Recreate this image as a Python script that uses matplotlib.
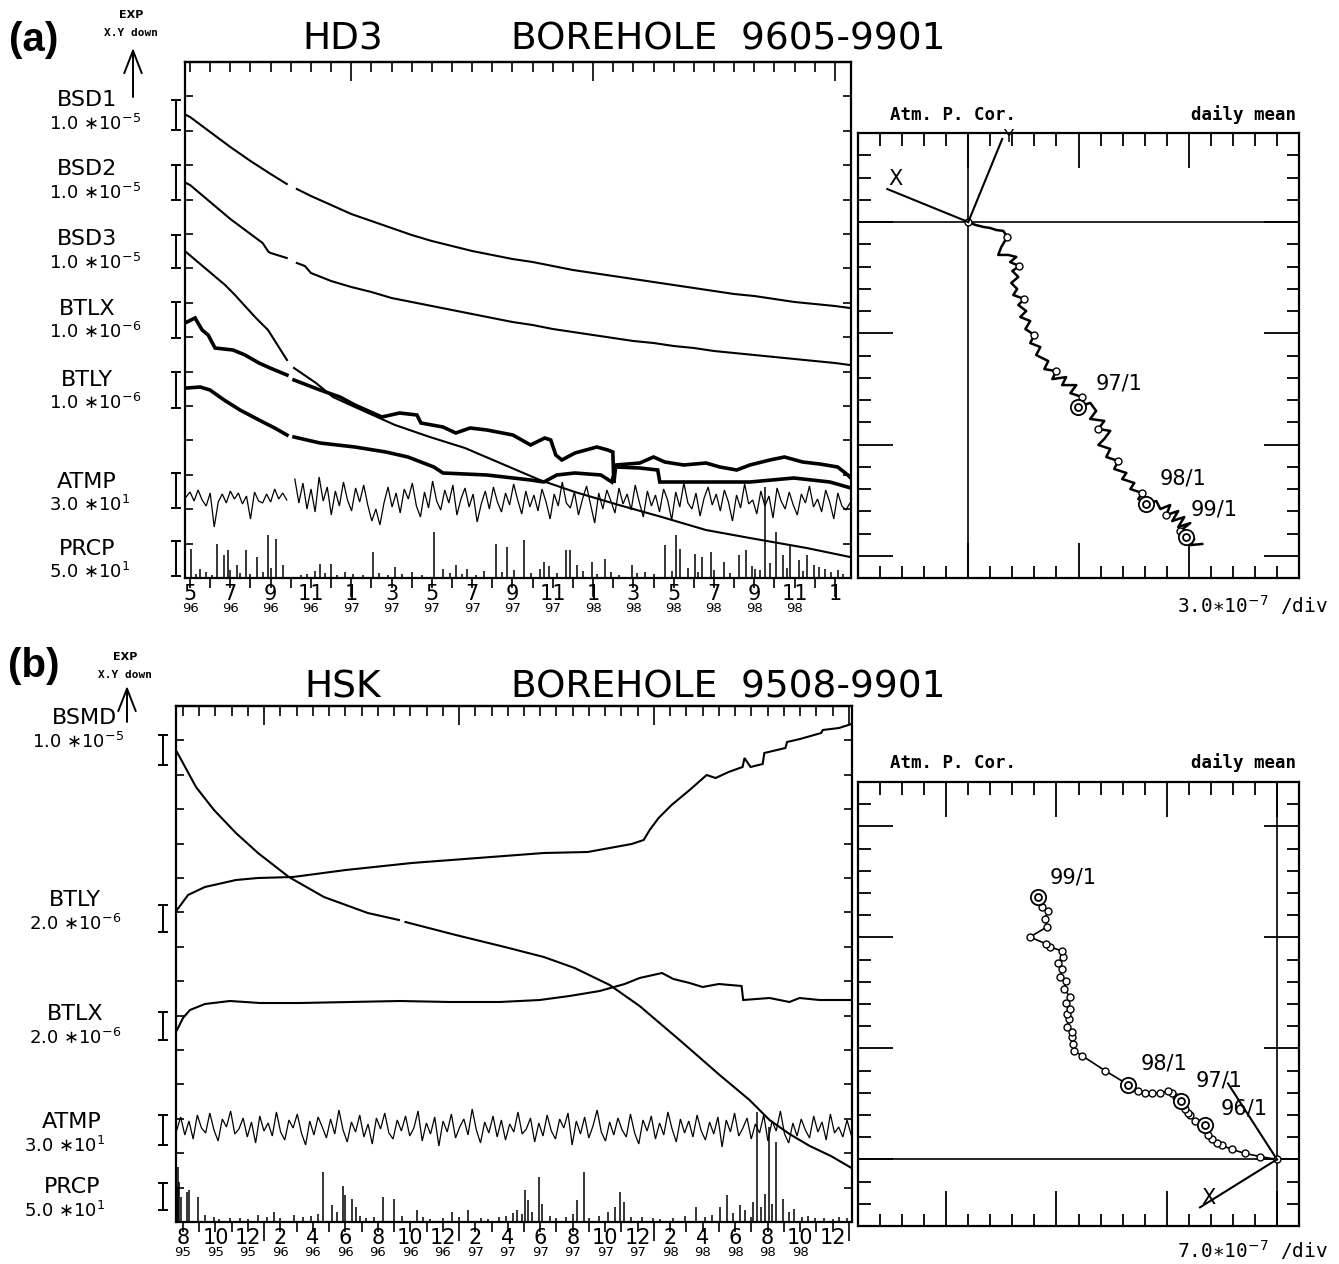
import numpy as np
import matplotlib
matplotlib.use("Agg")
import matplotlib.pyplot as plt
from matplotlib.lines import Line2D
from matplotlib.ticker import MultipleLocator, FixedLocator, NullFormatter

nan = np.nan
W, H = 1339, 1264

# ---------------- panel (a) HD3, time in months from 1996/5 ----------------
# trace values are read downward from the top of the strip ("X.Y down")
bsd1_t = [-0.2, 0, 1, 2, 3, 4, 4.8, 5.0, 5.3, 6, 7, 8, 9, 10, 11, 12, 13, 14, 15, 16, 17,
          18, 19, 20, 21, 22, 23, 24, 25, 26, 27, 28, 29, 30, 31, 32, 32.75]
bsd1_v = [53, 55, 70, 85, 99, 112, 122, nan, 127, 134, 143, 152, 159, 166, 173, 179, 184, 189,
          193, 197, 200, 204, 208, 211, 214, 217, 220, 223, 226, 229, 232, 234, 237, 240, 242,
          244, 246]

bsd2_t = [-0.2, 0, 1, 2, 3, 3.6, 3.9, 4, 4.8, 5.0, 5.3, 5.7, 6, 7, 8, 9, 10, 11, 12, 13, 14,
          15, 16, 17, 18, 19, 20, 21, 22, 23, 24, 25, 26, 27, 28, 29, 30, 31, 32, 32.75]
bsd2_v = [121, 123, 140, 157, 172, 181, 190, 191, 196, nan, 201, 204, 211, 219, 225, 230, 236,
          240, 244, 248, 252, 256, 260, 263, 267, 270, 273, 276, 279, 281, 284, 286, 289, 291,
          293, 295, 297, 299, 301, 303]

bsd3_t = [-0.2, 0.74, 1.74, 2.23, 2.68, 3.27, 3.87, 4.81, 5.0, 5.16, 6.25, 7.09, 8.18, 10.17,
          11.9, 13.64, 15.5, 17.36, 19.1, 21.28, 23.41, 25.6, 27.78, 30.6, 32.75]
bsd3_v = [190, 206, 223, 233, 243, 256, 268, 298, nan, 306, 321, 335, 345, 363, 375, 386, 402,
          418, 430, 443, 455, 468, 476, 486, 495]

btlx_a_t = [-0.15, 0.25, 0.6, 0.9, 1.24, 2.13, 2.73, 3.42, 3.97, 4.81, 5.0, 5.16, 6.45, 7.44,
            8.18, 9.52, 10.4, 11.26, 11.46, 12.55, 13.19, 13.9, 14.73, 16.02, 16.9, 17.6, 17.9,
            18.15, 18.45, 19.1, 20.19, 20.73, 20.98, 21.03, 21.13, 22.32, 23.0, 23.56, 24.5,
            25.6, 26.29, 27.13, 27.78, 28.77, 29.5, 30.4, 31.25, 32.14, 32.64, 32.79]
btlx_a_v = [260, 256, 268, 273, 286, 288, 293, 301, 306, 313, nan, 318, 328, 335, 343, 355, 351,
            353, 361, 365, 371, 366, 368, 373, 383, 376, 378, 393, 398, 391, 385, 388, 390, 421,
            403, 401, 395, 400, 403, 401, 405, 408, 403, 398, 395, 400, 402, 405, 413, 416]

btly_a_t = [-0.15, 0.5, 0.99, 1.69, 2.48, 3.42, 4.2, 4.81, 5.0, 5.16, 6.45, 8.18, 9.72, 10.81,
            12.1, 12.55, 14.73, 16.9, 17.56, 18.2, 19.1, 20.39, 20.93, 21.13, 22.32, 23.21,
            23.31, 25.6, 27.78, 29.96, 31.75, 32.79]
btly_a_v = [326, 325, 328, 338, 348, 358, 366, 373, nan, 375, 381, 385, 390, 395, 405, 411, 413,
            418, 420, 413, 411, 413, 420, 405, 406, 408, 420, 420, 420, 416, 420, 426]

# air temperature, deviations from the strip line (two pieces around the data gap)
atmp_a1 = [0, -5, 4, -7, 3, 9, -4, 30, 5, -3, 6, -6, 2, -4, 7, -1, 22, -5, 4, 6, -3, 5, -8, 2,
           -4, 3]
atmp_a2 = [-18, 6, -14, 12, -8, 15, -20, 4, -10, 18, -6, 9, -15, 3, 14, -9, 5, -12, 8, 24, 12,
           28, 6, -10, 10, -4, 16, -8, 2, -14, 9, 20, -5, 11, -16, 4, 13, -7, 6, -12, 18, 2, -9,
           10, -3, 25, 7, -6, 12, -10, 5, 15, -4, 8, -13, 3, 17, -6, 10, -2, 14, -8, 5, 22, -3,
           9, -15, 6, 11, -5, 18, 2, -11, 8, 26, -4, 12, -7, 4, 16, -9, 7, -3, 13, -12, 5, 20,
           -6, 9, -2, 15, -8, 3, 23, -5, 10, -14, 6, 12, -4, 19, 1, -10, 8, -3, 14, -7, 5, 24,
           -2, 11, -13, 7, 3, 17, -6, 9, -1, 21, -9, 4, 12, -5, 8, 18, -3, 6, -11, 10, 2, 15, -7,
           5, 22, -4, 9, 13, 6]

prcp_a_t = [0.05, 0.5, 1.34, 1.69, 1.88, 2.33, 2.78, 3.32, 3.87, 4.27, 4.61, 6.45, 6.99, 9.08,
            10.17, 12.1, 12.55, 13.19, 13.74, 15.18, 15.72, 16.57, 17.36, 17.56, 18.65, 18.85,
            19.2, 19.94, 20.59, 21.92, 22.57, 23.56, 24.11, 24.31, 25.05, 25.4, 25.84, 26.49,
            27.23, 27.58, 28.03, 28.52, 29.07, 29.42, 29.76, 30.6, 30.95, 31.5, 32.14,
            0.3, 0.8, 1.1, 2.0, 2.5, 3.0, 3.6, 4.0, 5.5, 5.8, 6.2, 6.7, 7.3, 7.7, 8.1, 8.6, 9.4,
            9.8, 10.5, 11.0, 11.5, 12.9, 13.5, 14.2, 14.6, 15.5, 16.1, 16.9, 17.8, 18.2, 19.5,
            20.2, 20.9, 21.3, 22.2, 23.0, 23.9, 24.7, 25.2, 26.0, 26.8, 27.9, 28.3, 28.8, 29.6,
            30.2, 30.4, 31.2, 31.8, 32.4]
prcp_a_h = [29, 9, 34, 23, 28, 13, 28, 21, 43, 39, 13, 14, 14, 26, 11, 46, 9, 13, 9, 34, 31, 38,
            9, 16, 28, 28, 13, 16, 19, 13, 6, 33, 43, 29, 24, 21, 26, 16, 23, 28, 9, 91, 46, 23,
            33, 23, 13, 9, 8,
            4, 6, 3, 8, 5, 4, 6, 10, 3, 4, 7, 5, 3, 6, 4, 3, 5, 3, 4, 6, 3, 5, 4, 3, 7, 6, 8, 5,
            12, 5, 7, 4, 6, 3, 5, 4, 7, 10, 6, 8, 5, 12, 8, 15, 10, 18, 7, 11, 6, 4]

# hodograph (a), divisions of 3.0e-7
hx_a = [0, 0.32, 0.68, 1.0, 1.27, 1.59, 1.77, 1.5, 1.36, 1.81, 2.18, 1.9, 2.31, 2.0, 2.27, 1.95,
        2.22, 2.04, 2.54, 2.27, 2.63, 2.36, 2.81, 2.59, 3.0, 2.81, 3.27, 3.08, 3.63, 3.45, 3.99,
        3.81, 4.44, 4.26, 4.9, 4.63, 5.17, 4.99, 5.53, 5.8, 5.53, 6.17, 5.9, 6.44, 6.17, 5.9,
        6.44, 6.26, 6.8, 6.62, 7.17, 6.98, 7.53, 7.35, 7.89, 7.71, 8.07, 8.53, 8.71, 9.16, 8.98,
        9.52, 9.25, 9.8, 9.52, 10.07, 9.61, 9.89, 10.25, 10.07, 10.61]
hy_a = [0, -0.13, -0.22, -0.27, -0.36, -0.40, -0.67, -1.12, -1.48, -1.48, -1.57, -1.8, -1.98,
        -2.2, -2.47, -2.74, -3.01, -3.28, -3.46, -3.73, -4.0, -4.27, -4.45, -4.81, -5.08, -5.44,
        -5.62, -5.98, -6.25, -6.61, -6.70, -7.06, -6.97, -7.33, -7.33, -7.69, -7.87, -8.31,
        -8.13, -8.49, -8.85, -8.94, -9.3, -9.39, -9.75, -10.02, -10.2, -10.56, -10.74, -11.1,
        -11.28, -11.55, -11.73, -12.0, -12.18, -12.45, -12.67, -12.54, -12.9, -12.72, -13.17,
        -12.99, -13.44, -13.26, -13.71, -13.53, -13.89, -14.16, -14.25, -14.52, -14.47]
yr_a_x = [4.99, 8.07, 9.89]
yr_a_y = [-8.31, -12.67, -14.16]
yr_a_lab = ["97/1", "98/1", "99/1"]
yr_a_lx = [5.76, 8.66, 10.07]
yr_a_ly = [-7.28, -11.55, -12.9]
axis_a_x = [-3.67, 1.54]   # X and Y sensor directions
axis_a_y = [1.48, 3.73]

# ---------------- panel (b) HSK, time in months from 1995/8 ----------------
bsmd_t = [-0.37, 0.8, 1.91, 3.26, 4.62, 6.52, 8.68, 11.38, 13.3, 13.5, 13.7, 16.8, 19.82, 22.22,
          24.12, 26.28, 28.12, 30.58, 33.05, 34.89, 36.12, 37.35, 38.6, 39.9, 41.17]
bsmd_v = [46, 81, 104, 127, 147, 171, 191, 207, 214, nan, 216, 229, 241, 251, 262, 279, 300, 334,
          369, 394, 414, 428, 440, 450, 462]

btly_b_t = [-0.37, 0.31, 1.35, 3.26, 4.62, 6.77, 10.03, 14.09, 18.15, 22.22, 24.92, 26.28, 27.63,
            28.37, 28.74, 29.29, 30.09, 31.2, 32.25, 32.8, 33.6, 34.46, 34.58, 34.95, 35.7, 35.8,
            37.1, 37.2, 38.0, 39.3, 39.4, 40.4, 41.17]
btly_b_v = [204, 189, 181, 174, 172, 171, 164, 157, 152, 147, 146, 142, 138, 134, 124, 112, 99,
            84, 69, 72, 66, 61, 52, 61, 58, 47, 42, 36, 33, 27, 24, 22, 18]

btlx_b_t = [-0.37, 0, 0.43, 1.35, 2.89, 4.74, 7.2, 10.28, 13.35, 16.43, 19.51, 21.97, 23.8,
            25.66, 27.2, 28.12, 29.5, 30.2, 31.2, 32.0, 33.0, 34.4, 34.5, 36.12, 37.35, 37.97,
            39.2, 41.17]
btlx_b_v = [324, 312, 304, 298, 295, 297, 297, 296, 295, 296, 296, 294, 290, 285, 278, 272, 267,
            273, 277, 281, 278, 280, 294, 292, 296, 292, 294, 294]

atmp_b = [6, -8, 10, -4, 14, -10, 3, 8, -12, 5, 16, -6, 2, -14, 9, 4, -7, 12, -3, 18, -9, 6, -2,
          11, -13, 7, 15, -5, 3, -11, 8, 20, -4, 10, -8, 2, 13, -6, 9, -15, 5, 17, -3, 7, -10,
          12, -1, 19, -7, 4, -12, 8, 14, -5, 6, -9, 11, 3, -14, 16, -2, 9, -8, 21, -4, 7, -11,
          13, 2, -6, 10, -16, 5, 18, -3, 8, -9, 12, -5, 15, -1, 7, -13, 9, 4, -7, 17, -2, 11,
          -10, 6, 14, -6, 3, -12, 20, -4, 9, -8, 13, 1, -15, 7, 16, -3, 10, -7, 5, 12, -11, 8,
          19, -5, 6, -9, 14, -2, 10, -13, 4, 17, -6, 8, -4, 12, -10, 6, 15, -3, 9, -8, 22, -5,
          7, -12, 11, 3, -7, 14, -1, 8, -10, 16, -4, 6, -14, 9, 18, -2, 11, -6, 5, 13, -9, 7,
          -3, 15, -11, 8, 2, 12, -5, 10]

prcp_b_t = [-0.38, -0.3, -0.22, -0.12, 0.25, 0.37, 0.92, 1.35, 1.91, 3.5, 4.62, 5.6, 6.83, 7.38,
            8.62, 9.17, 9.85, 9.97, 10.4, 10.65, 11.75, 12.31, 12.98, 14.4, 14.77, 16.55, 17.54,
            18.34, 19.45, 20.86, 21.05, 21.23, 21.91, 22.09, 23.57, 24.25, 24.68, 26.58, 26.89,
            27.14, 28.25, 28.92, 31.57, 32.12, 33.05, 33.48, 34.28, 34.95, 35.38, 35.82, 36.06,
            36.49, 36.92, 37.6, 38.15, 38.95, 40.37,
            2.2, 2.9, 4.0, 5.2, 6.0, 7.9, 8.3, 9.5, 10.9, 11.3, 13.5, 15.2, 16.0, 17.0, 18.8,
            19.9, 20.3, 20.6, 21.5, 22.6, 23.0, 24.0, 25.0, 25.6, 26.2, 27.6, 29.4, 30.2, 30.9,
            32.6, 33.9, 34.6, 35.1, 35.6, 36.3, 37.3, 38.5, 39.5, 40.0, 40.9]
prcp_b_h = [35, 55, 40, 25, 30, 32, 25, 7, 5, 4, 7, 10, 7, 5, 50, 17, 36, 27, 23, 15, 5, 25, 23,
            12, 5, 10, 12, 4, 5, 8, 32, 22, 45, 18, 5, 22, 50, 15, 30, 20, 5, 4, 15, 5, 15, 27,
            17, 5, 110, 28, 95, 80, 23, 13, 5, 4, 5,
            3, 4, 3, 5, 4, 6, 8, 10, 6, 4, 6, 3, 4, 5, 3, 6, 9, 12, 10, 6, 4, 8, 4, 6, 10, 5, 3,
            4, 6, 7, 9, 12, 20, 15, 18, 10, 6, 4, 3, 4]

# hodograph (b), divisions of 7.0e-7
hx_b = [0, -0.77, -1.45, -2.04, -2.49, -2.72, -2.95, -3.13, -3.22, -3.27, -3.49, -3.72, -3.95,
        -4.04, -4.17, -4.26, -4.35, -4.58, -4.76, -4.94, -5.31, -5.67, -5.99, -6.3, -6.76, -7.8,
        -8.84, -9.21, -9.25, -9.3, -9.3, -9.52, -9.43, -9.52, -9.39, -9.57, -9.39, -9.66, -9.57,
        -9.84, -9.75, -9.93, -9.71, -9.75, -10.29, -10.48, -11.2, -10.43, -10.52, -10.39,
        -10.66, -10.75, -10.84]
hy_b = [0, 0.13, 0.27, 0.45, 0.63, 0.76, 0.94, 1.08, 1.39, 1.53, 1.62, 1.75, 1.98, 2.11, 2.29,
        2.47, 2.65, 2.83, 2.97, 3.06, 3.01, 2.97, 3.01, 3.1, 3.37, 4.0, 4.67, 4.9, 5.21, 5.53,
        5.75, 5.98, 6.34, 6.56, 6.79, 7.06, 7.33, 7.69, 8.04, 8.22, 8.58, 8.85, 9.12, 9.39, 9.57,
        9.71, 10.02, 10.47, 10.83, 11.19, 11.37, 11.64, 11.82]
yr_b_x = [-3.27, -4.35, -6.76, -10.84]
yr_b_y = [1.53, 2.65, 3.37, 11.82]
yr_b_lab = ["96/1", "97/1", "98/1", "99/1"]
yr_b_lx = [-2.55, -3.7, -6.2, -10.3]
yr_b_ly = [2.3, 3.55, 4.3, 12.7]
axis_b_x = [-3.49, -2.22]
axis_b_y = [-2.16, 3.42]

# month tick labels
lab_a_t = list(range(0, 33, 2))
lab_a_m = ["5", "7", "9", "11", "1", "3", "5", "7", "9", "11", "1", "3", "5", "7", "9", "11", "1"]
lab_a_y = ["96"] * 4 + ["97"] * 6 + ["98"] * 6 + [""]
lab_b_t = list(range(0, 41, 2))
lab_b_m = ["8", "10", "12", "2", "4", "6", "8", "10", "12", "2", "4", "6", "8", "10", "12",
           "2", "4", "6", "8", "10", "12"]
lab_b_y = ["95"] * 3 + ["96"] * 6 + ["97"] * 6 + ["98"] * 5 + [""]

# ---------------- drawing ----------------
plt.rcParams['font.family'] = ['DejaVu Sans']
fig = plt.figure(figsize=(W / 100, H / 100), dpi=100)


def fx(x):
    return x / W


def fy(y):
    return 1 - y / H


def box(x0, y0, x1, y1):
    return [fx(x0), fy(y1), (x1 - x0) / W, (y1 - y0) / H]


def scale_bar(x, y0, y1):
    fig.add_artist(Line2D([fx(x), fx(x)], [fy(y0), fy(y1)], color='k', lw=1.4))
    for y in (y0, y1):
        fig.add_artist(Line2D([fx(x - 4), fx(x + 4)], [fy(y), fy(y)], color='k', lw=1.4))


def side_label(xn, yn, name, xs, ys, scale):
    fig.text(fx(xn), fy(yn), name, ha='center', va='center', fontsize=16)
    fig.text(fx(xs), fy(ys), scale, ha='center', va='center', fontsize=13)


def time_axes(ax, xlim, nmonth, jan, lab_t, lab_m, lab_y):
    ax.set_xlim(*xlim)
    ax.set_ylim(516, 0)
    months = list(range(0, nmonth + 1))
    ax.xaxis.set_major_locator(FixedLocator(jan))
    ax.xaxis.set_minor_locator(FixedLocator(months))
    ax.xaxis.set_major_formatter(NullFormatter())
    ax.tick_params(axis='x', which='major', direction='out', length=14, width=1.2)
    ax.tick_params(axis='x', which='minor', direction='out', length=7, width=1.2)
    top = ax.secondary_xaxis('top')
    top.xaxis.set_major_locator(FixedLocator(jan))
    top.xaxis.set_minor_locator(FixedLocator(months))
    top.xaxis.set_major_formatter(NullFormatter())
    top.tick_params(which='major', direction='in', length=14, width=1.2)
    top.tick_params(which='minor', direction='in', length=7, width=1.2)
    top.spines['top'].set_linewidth(1.6)
    ax.yaxis.set_major_locator(FixedLocator(np.arange(0, 517, 34.4)))
    ax.yaxis.set_major_formatter(NullFormatter())
    ax.tick_params(axis='y', left=True, right=True, direction='in', length=6, width=1.2)
    for s in ax.spines.values():
        s.set_linewidth(1.6)
    for t, m, y in zip(lab_t, lab_m, lab_y):
        ax.annotate(m, xy=(t, 0), xycoords=('data', 'axes fraction'), xytext=(0, -4),
                    textcoords='offset points', ha='center', va='top', fontsize=15)
        ax.annotate(y, xy=(t, 0), xycoords=('data', 'axes fraction'), xytext=(0, -17),
                    textcoords='offset points', ha='center', va='top', fontsize=9.5)


def hodo_axes(ax, xlim, ylim):
    ax.set_xlim(*xlim)
    ax.set_ylim(*ylim)
    for a in (ax.xaxis, ax.yaxis):
        a.set_major_locator(MultipleLocator(5))
        a.set_minor_locator(MultipleLocator(1))
        a.set_major_formatter(NullFormatter())
    ax.tick_params(which='both', direction='in', top=True, bottom=True, left=True, right=True)
    ax.tick_params(which='major', length=25, width=1.3)
    ax.tick_params(which='minor', length=9, width=1.3)
    for s in ax.spines.values():
        s.set_linewidth(1.6)
    ax.axhline(0, color='k', lw=1.2)
    ax.axvline(0, color='k', lw=1.2)


def strip(ax, t, v, lw):
    ax.plot(t, v, color='k', lw=lw, solid_joinstyle='miter')


def rain(ax, t, h):
    ax.vlines(t, 516, 516 - np.array(h), color='k', lw=1.1)


# ----- panel (a)
axA = fig.add_axes(box(185, 62, 851, 578))
time_axes(axA, (-0.25, 32.8), 32, [8, 20, 32], lab_a_t, lab_a_m, lab_a_y)
strip(axA, bsd1_t, bsd1_v, 1.5)
strip(axA, bsd2_t, bsd2_v, 1.5)
strip(axA, bsd3_t, bsd3_v, 1.5)
strip(axA, btlx_a_t, btlx_a_v, 2.6)
strip(axA, btly_a_t, btly_a_v, 2.6)
t1 = np.linspace(-0.2, 4.8, len(atmp_a1))
t2 = np.linspace(5.2, 32.75, len(atmp_a2))
strip(axA, t1, 435 + np.array(atmp_a1), 0.9)
strip(axA, t2, 435 + np.array(atmp_a2), 0.9)
rain(axA, prcp_a_t, prcp_a_h)

hA = fig.add_axes(box(858, 133, 1299, 578))
hodo_axes(hA, (-5, 15), (-16, 4))
hA.plot(hx_a, hy_a, color='k', lw=1.8)
hA.plot(hx_a[::6], hy_a[::6], 'o', ms=5, mfc='white', mec='k', mew=1.0)
hA.plot(yr_a_x, yr_a_y, 'o', ms=11, mfc='white', mec='k', mew=1.3)
hA.plot(yr_a_x, yr_a_y, 'o', ms=5, mfc='white', mec='k', mew=1.3)
for x, y, s in zip(yr_a_lx, yr_a_ly, yr_a_lab):
    hA.text(x, y, s, fontsize=15, ha='left', va='center')
hA.plot([0, axis_a_x[0]], [0, axis_a_y[0]], color='k', lw=1.5)
hA.plot([0, axis_a_x[1]], [0, axis_a_y[1]], color='k', lw=1.5, clip_on=False)
hA.text(axis_a_x[0] + 0.35, axis_a_y[0] + 0.45, "X", fontsize=15, ha='center', va='center')
hA.text(axis_a_x[1] + 0.25, axis_a_y[1] + 0.1, "Y", fontsize=12, ha='center', va='center',
        clip_on=False)

# ----- panel (b)
axB = fig.add_axes(box(176, 706, 852, 1222))
time_axes(axB, (-0.43, 41.2), 41, [5, 17, 29, 41], lab_b_t, lab_b_m, lab_b_y)
strip(axB, bsmd_t, bsmd_v, 1.5)
strip(axB, btly_b_t, btly_b_v, 1.5)
strip(axB, btlx_b_t, btlx_b_v, 1.5)
tb = np.linspace(-0.4, 41.15, len(atmp_b))
strip(axB, tb, 419 + np.array(atmp_b), 0.9)
rain(axB, prcp_b_t, prcp_b_h)

hB = fig.add_axes(box(858, 782, 1299, 1226))
hodo_axes(hB, (-19, 1), (-3, 17))
hB.plot(hx_b, hy_b, color='k', lw=1.2, marker='o', ms=5, mfc='white', mec='k', mew=1.0)
hB.plot(yr_b_x, yr_b_y, 'o', ms=11, mfc='white', mec='k', mew=1.3)
hB.plot(yr_b_x, yr_b_y, 'o', ms=5, mfc='white', mec='k', mew=1.3)
for x, y, s in zip(yr_b_lx, yr_b_ly, yr_b_lab):
    hB.text(x, y, s, fontsize=15, ha='left', va='center')
hB.plot([0, axis_b_x[0]], [0, axis_b_y[0]], color='k', lw=1.5)
hB.plot([0, axis_b_x[1]], [0, axis_b_y[1]], color='k', lw=1.5)
hB.text(axis_b_x[0] + 0.4, axis_b_y[0] + 0.4, "X", fontsize=15, ha='center', va='center')

# ----- titles and side annotations
for yc, code, span in ((40, "HD3", "BOREHOLE  9605-9901"), (688, "HSK", "BOREHOLE  9508-9901")):
    fig.text(fx(343), fy(yc), code, fontsize=27, ha='center', va='center')
    fig.text(fx(728), fy(yc), span, fontsize=27, ha='center', va='center')

for yc, letter in ((40, "(a)"), (666, "(b)")):
    fig.text(fx(34), fy(yc), letter, fontsize=29, fontweight='bold', ha='center', va='center',
             family='Liberation Sans')

# "EXP / X.Y down" note with upward arrow: (text x, EXP y, arrow head y, arrow tail y)
for x, yexp, yhead, ytail in ((131, 15, 48, 97), (125, 657, 686, 722)):
    fig.text(fx(x), fy(yexp), "EXP", fontsize=8, fontweight='bold', ha='center', va='center')
    fig.text(fx(x), fy(yexp + 18), "X.Y down", fontsize=8, fontweight='bold', ha='center',
             va='center', family='DejaVu Sans Mono')
    axA.annotate('', xy=(fx(x + 2), fy(yhead)), xycoords='figure fraction',
                 xytext=(fx(x + 2), fy(ytail)), textcoords='figure fraction',
                 arrowprops=dict(arrowstyle='->,head_length=0.9,head_width=0.35', lw=1.4,
                                 mutation_scale=18, shrinkA=0, shrinkB=0),
                 annotation_clip=False)

labels_a = [("BSD1", 87, 100, 95, 124, "1.0 ∗10$^{-5}$", 100, 130),
            ("BSD2", 87, 169, 95, 193, "1.0 ∗10$^{-5}$", 165, 200),
            ("BSD3", 87, 239, 95, 263, "1.0 ∗10$^{-5}$", 235, 268),
            ("BTLX", 87, 309, 95, 332, "1.0 ∗10$^{-6}$", 302, 338),
            ("BTLY", 87, 380, 95, 403, "1.0 ∗10$^{-6}$", 372, 408),
            ("ATMP", 87, 482, 90, 505, "3.0 ∗10$^{1}$", 473, 508),
            ("PRCP", 87, 549, 90, 572, "5.0 ∗10$^{1}$", 541, 576)]
for name, xn, yn, xs, ys, sc, b0, b1 in labels_a:
    side_label(xn, yn, name, xs, ys, sc)
    scale_bar(176, b0, b1)

labels_b = [("BSMD", 85, 718, 78, 742, "1.0 ∗10$^{-5}$", 735, 765),
            ("BTLY", 75, 900, 75, 924, "2.0 ∗10$^{-6}$", 905, 932),
            ("BTLX", 75, 1014, 75, 1038, "2.0 ∗10$^{-6}$", 1012, 1040),
            ("ATMP", 72, 1122, 65, 1146, "3.0 ∗10$^{1}$", 1115, 1145),
            ("PRCP", 72, 1187, 65, 1211, "5.0 ∗10$^{1}$", 1183, 1210)]
for name, xn, yn, xs, ys, sc, b0, b1 in labels_b:
    side_label(xn, yn, name, xs, ys, sc)
    scale_bar(163, b0, b1)

for ytxt, yunit, unit in ((115, 605, "3.0∗10$^{-7}$ /div"), (763, 1250, "7.0∗10$^{-7}$ /div")):
    fig.text(fx(890), fy(ytxt), "Atm. P. Cor.", fontsize=12.5, fontweight='bold', ha='left',
             va='center', family='DejaVu Sans Mono')
    fig.text(fx(1296), fy(ytxt), "daily mean", fontsize=12.5, fontweight='bold', ha='right',
             va='center', family='DejaVu Sans Mono')
    fig.text(fx(1328), fy(yunit), unit, fontsize=14, ha='right', va='center',
             family='DejaVu Sans Mono')

fig.savefig("out.png", dpi=100)
